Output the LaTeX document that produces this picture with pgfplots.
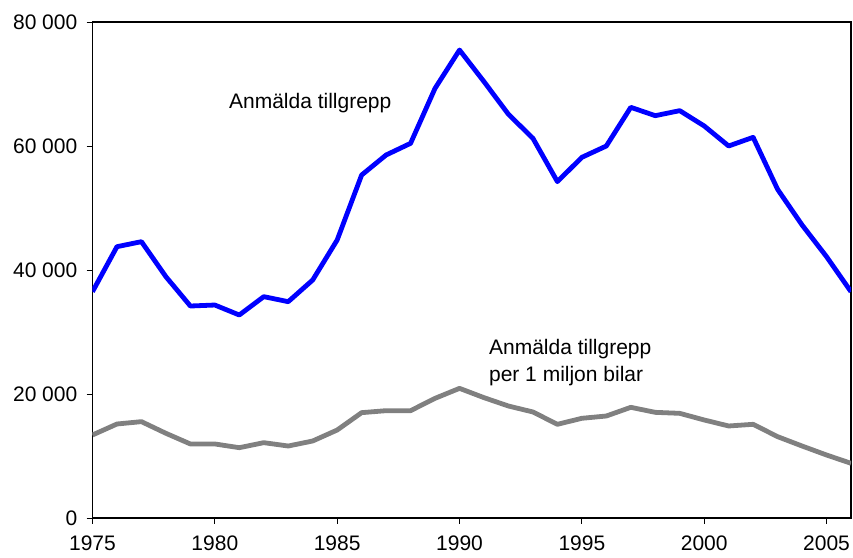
\documentclass[border=0pt]{standalone}
\usepackage{fontspec}
\setmainfont{Liberation Sans}
\usepackage{pgfplots}
\pgfplotsset{compat=1.18}
\definecolor{sblue}{RGB}{0,0,255}
\definecolor{sgray}{RGB}{128,128,128}
\begin{document}
\fontsize{21}{25}\selectfont
\begin{tikzpicture}
\begin{axis}[
  scale only axis, width=758.5pt, height=496pt,
  xmin=1975, xmax=2006, ymin=0, ymax=80000,
  scaled y ticks=false, scaled x ticks=false,
  xtick={1975,1980,1985,1990,1995,2000,2005},
  xticklabels={1975,1980,1985,1990,1995,2000,2005},
  ytick={0,20000,40000,60000,80000},
  yticklabels={0,20 000,40 000,60 000,80 000},
  tick align=outside, xtick pos=bottom, ytick pos=left,
  major tick length=6pt,
  tick style={black, line width=0.8pt},
  axis line style={line width=1.5pt},
  ticklabel style={font=\fontsize{21}{25}\selectfont},
  xticklabel style={yshift=-5pt},
  yticklabel style={xshift=-2pt},
]
\addplot[sblue, line width=4.8pt, line join=round] coordinates {
(1975,36500)(1976,43760)(1977,44570)(1978,38920)(1979,34190)(1980,34350)
(1981,32740)(1982,35700)(1983,34890)(1984,38390)(1985,44840)(1986,55320)
(1987,58550)(1988,60430)(1989,69300)(1990,75480)(1991,70380)(1992,65110)
(1993,61240)(1994,54250)(1995,58170)(1996,60000)(1997,66240)(1998,64890)
(1999,65700)(2000,63230)(2001,60000)(2002,61400)(2003,53010)(2004,47260)
(2005,42150)(2006,36500)};
\addplot[sgray, line width=4.8pt, line join=round] coordinates {
(1975,13390)(1976,15160)(1977,15540)(1978,13660)(1979,11940)(1980,11940)
(1981,11340)(1982,12150)(1983,11610)(1984,12420)(1985,14190)(1986,16990)
(1987,17310)(1988,17310)(1989,19300)(1990,20910)(1991,19410)(1992,18060)
(1993,17100)(1994,15110)(1995,16080)(1996,16450)(1997,17850)(1998,17040)
(1999,16880)(2000,15810)(2001,14840)(2002,15110)(2003,13120)(2004,11610)
(2005,10160)(2006,8820)};
\node[inner sep=0pt, font=\fontsize{21}{25}\selectfont] at (axis cs:1983.9,66935) {Anmälda tillgrepp};
\node[inner sep=0pt, anchor=west, align=left, font=\fontsize{21}{27}\selectfont] at (axis cs:1991.2,25080) {Anmälda tillgrepp\\per 1 miljon bilar};
\coordinate (bl) at (rel axis cs:0,0);
\coordinate (tr) at (rel axis cs:1,1);
\end{axis}
\pgfresetboundingbox
\path ([shift={(-92.5pt,-40pt)}]bl) rectangle ([shift={(2pt,22pt)}]tr);
\end{tikzpicture}
\end{document}
